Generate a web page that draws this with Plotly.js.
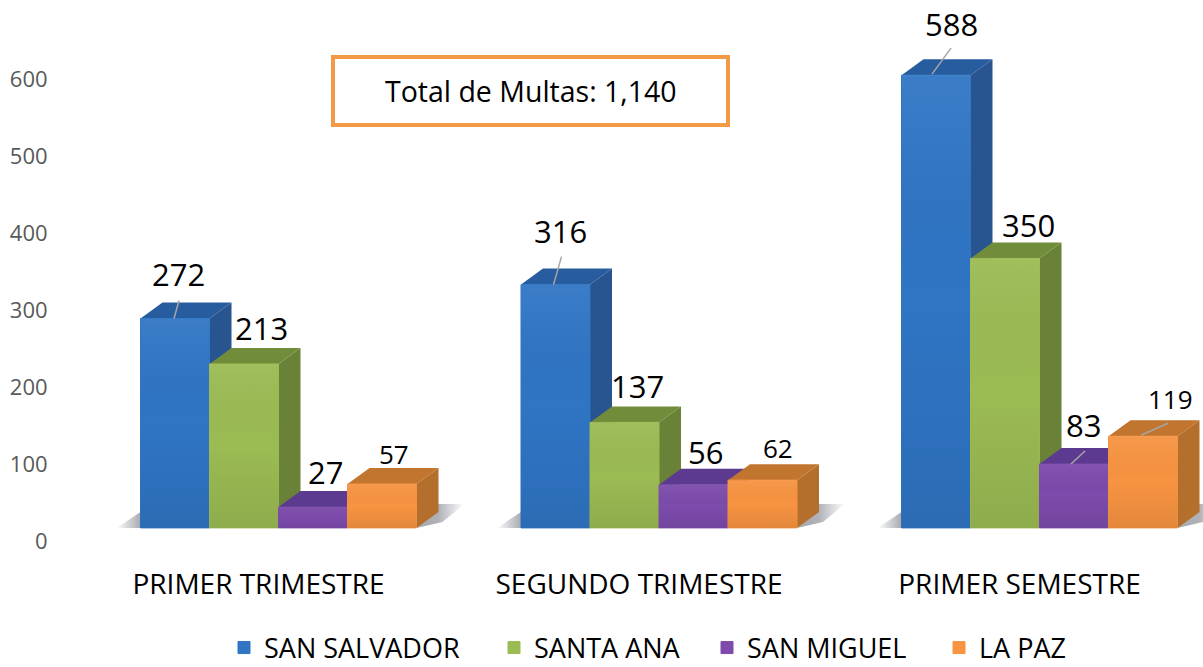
<!DOCTYPE html>
<html>
<head>
<meta charset="utf-8">
<script src="https://cdn.plot.ly/plotly-3.0.1.min.js"></script>
<style>html,body{margin:0;padding:0;background:#fff}#chart{width:1203px;height:667px}</style>
</head>
<body>
<div id="chart"></div>
<script>
// ---- data ----
const periods = ["PRIMER TRIMESTRE", "SEGUNDO TRIMESTRE", "PRIMER SEMESTRE"];
const sanSalvador = [272, 316, 588];
const santaAna = [213, 137, 350];
const sanMiguel = [27, 56, 83];
const laPaz = [57, 62, 119];
const seriesNames = ["SAN SALVADOR", "SANTA ANA", "SAN MIGUEL", "LA PAZ"];
const yTicks = [0, 100, 200, 300, 400, 500, 600];
const totalText = "Total de Multas: 1,140";

// ---- style ----
const allSeries = [sanSalvador, santaAna, sanMiguel, laPaz];
const frontCol = ["#2f75c4", "#9bbb53", "#7c4bab", "#f79341"];
const sideCol = ["#28548f", "#6a8237", "#553580", "#b56f2c"];
const topCol = ["#275c9f", "#718c3b", "#5b3a90", "#c2752f"];
const FONT = "Open Sans, Noto Sans, sans-serif";
const W = 1203, H = 667, L = 70, B = 126;
const pxX = 380.5, pxY = 0.77;
const barW = 69 / pxX;
const floorBase = 17;              // projected floor of the 3D scene
const dX = 22 / pxX, dY = 16 / pxY; // projected depth of the bars
const groupX = periods.map((_, i) => i);
const barX = (g, s) => groupX[g] + (s - 1.5) * barW;

const traces = [];
// soft floor shadows: a wedge on each side of every group
periods.forEach((_, g) => {
  const left = barX(g, 0) - barW / 2, right = barX(g, 3) + barW / 2;
  const fy = h => floorBase + h / pxY, fx = p => p / pxX;
  traces.push({ type: "scatter", mode: "none", fill: "toself", showlegend: false, hoverinfo: "skip", zorder: 0,
    x: [left + fx(-24), left, left], y: [fy(0), fy(0), fy(16)],
    fillgradient: { type: "horizontal", colorscale: [[0, "rgba(95,100,110,0)"], [1, "rgba(95,100,110,0.55)"]] } });
  traces.push({ type: "scatter", mode: "none", fill: "toself", showlegend: false, hoverinfo: "skip", zorder: 0,
    x: [right, right + fx(22), right + fx(48), right + fx(26)], y: [fy(0), fy(24), fy(24), fy(6)],
    fillgradient: { type: "horizontal", colorscale: [[0, "rgba(95,100,110,0.55)"], [0.45, "rgba(95,100,110,0.5)"], [1, "rgba(95,100,110,0)"]] } });
});
allSeries.forEach((vals, s) => {
  vals.forEach((v, g) => {
    const x0 = barX(g, s) - barW / 2, x1 = x0 + barW, yb = floorBase, yt = floorBase + v;
    traces.push({ type: "scatter", mode: "none", fill: "toself", fillcolor: sideCol[s], showlegend: false, hoverinfo: "skip", zorder: 2 * s + 1,
      x: [x1, x1 + dX, x1 + dX, x1], y: [yb, yb + dY, yt + dY, yt] });
    traces.push({ type: "scatter", mode: "none", fill: "toself", fillcolor: topCol[s], showlegend: false, hoverinfo: "skip", zorder: 2 * s + 1,
      x: [x0, x0 + dX, x1 + dX, x1], y: [yt, yt + dY, yt + dY, yt] });
  });
  traces.push({
    type: "bar", name: seriesNames[s], x: groupX, y: vals, base: floorBase, width: barW,
    offset: (s - 2) * barW,
    marker: { color: frontCol[s], line: { color: frontCol[s], width: 1 } },
    legend: s === 0 ? "legend" : "legend" + (s + 1), zorder: 2 * s + 2, hoverinfo: "y+name"
  });
  vals.forEach((v, g) => {
    const x0 = barX(g, s) - barW / 2, x1 = x0 + barW, yb = floorBase, yt = floorBase + v;
    traces.push({ type: "scatter", mode: "none", fill: "toself", showlegend: false, hoverinfo: "skip", zorder: 2 * s + 2,
      x: [x0, x1, x1, x0], y: [yb, yb, yt, yt],
      fillgradient: { type: "vertical", colorscale: [[0, "rgba(0,0,0,0.08)"], [0.5, "rgba(0,0,0,0)"], [1, "rgba(255,255,255,0.06)"]] } });
  });
});

// value labels: offsets from the bar's top-centre, in pixels
const labelDX = [[3, 5, 15], [17, 13, 23], [12, 12, 9], [12, 15, 27]];
const labelDY = [[44, 54, 51], [36, 36, 33], [35, 33, 39], [30, 32, 37]];
const labelSize = [31, 31, 31, 26];
const annotations = [];
allSeries.forEach((vals, s) => vals.forEach((v, g) => {
  annotations.push({ x: barX(g, s), y: floorBase + v, xref: "x", yref: "y", text: String(v), showarrow: false,
    xshift: labelDX[s][g], yshift: labelDY[s][g], xanchor: "center", yanchor: "middle",
    font: { family: FONT, size: labelSize[s], color: "#000" } });
}));
annotations.push({ xref: "paper", yref: "paper", x: (530.5 - L) / (W - L), y: (541 - 91) / 541, text: totalText, showarrow: false,
  xanchor: "center", yanchor: "middle", font: { family: FONT, size: 28.5, color: "#000" } });

// leader lines: [series, group, x0, y0, x1, y1] px from the bar's top-centre
const leaders = [[0, 0, -1, 0, 4, 18], [0, 1, -2, 0, 6, 28], [0, 2, -4, 1, 15, 27], [2, 2, -3, 0, 11, 13], [3, 2, -2, 1, 25, 13]];
const shapes = leaders.map(([s, g, x0, y0, x1, y1]) => ({
  type: "line", xref: "x", yref: "y", xsizemode: "pixel", ysizemode: "pixel",
  xanchor: barX(g, s), yanchor: floorBase + allSeries[s][g], x0, x1, y0, y1,
  line: { color: "#a6a6a6", width: 1.5 }, layer: "above" }));
shapes.push({ type: "rect", xref: "paper", yref: "paper", x0: (333 - L) / (W - L), x1: (728 - L) / (W - L), y0: (541 - 125) / 541, y1: (541 - 57) / 541,
  line: { color: "#f29a45", width: 4 }, fillcolor: "#fff", layer: "above" });

const legendX = [224, 494, 707, 939];
const legendBase = { orientation: "h", xanchor: "left", yanchor: "middle", y: (541 - 648) / 541, bgcolor: "rgba(0,0,0,0)",
  font: { family: FONT, size: 27, color: "#000" }, itemclick: false, itemdoubleclick: false };
const layout = {
  width: W, height: H, margin: { l: L, r: 0, t: 0, b: B, autoexpand: false },
  paper_bgcolor: "#fff", plot_bgcolor: "#fff", barmode: "overlay", showlegend: true,
  xaxis: { range: [-208.5 / pxX, (W - 278.5) / pxX], tickmode: "array", tickvals: groupX.map(v => v - 20 / pxX), ticktext: periods,
    ticks: "outside", ticklen: 17, tickcolor: "rgba(0,0,0,0)", showgrid: false, zeroline: false, showline: true, linecolor: "#d9d9d9", linewidth: 2,
    tickfont: { family: FONT, size: 28, color: "#000" }, fixedrange: true },
  yaxis: { range: [0, 541 / pxY], tickmode: "array", tickvals: yTicks, ticks: "outside", ticklen: 17, tickcolor: "rgba(0,0,0,0)",
    showgrid: false, zeroline: false, showline: false, tickfont: { family: FONT, size: 22, color: "#595959" }, fixedrange: true },
  annotations, shapes,
  legend: Object.assign({}, legendBase, { x: (legendX[0] - L) / (W - L) }),
  legend2: Object.assign({}, legendBase, { x: (legendX[1] - L) / (W - L) }),
  legend3: Object.assign({}, legendBase, { x: (legendX[2] - L) / (W - L) }),
  legend4: Object.assign({}, legendBase, { x: (legendX[3] - L) / (W - L) })
};
Plotly.newPlot("chart", traces, layout, { displayModeBar: false, responsive: false });
</script>
</body>
</html>
